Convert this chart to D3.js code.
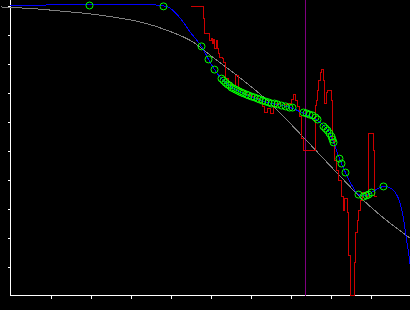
<!DOCTYPE html>
<html>
<head>
<meta charset="utf-8">
<script src="https://cdn.jsdelivr.net/npm/d3@7"></script>
<style>
  body { margin: 0; background: #000; }
  svg { display: block; background: #000; }
  line, path { shape-rendering: crispEdges; }
</style>
</head>
<body>
<svg id="chart"></svg>
<script>
// Axis tick values (no labels drawn on the reference)
var xTicks = [1, 2, 3, 4, 5, 6, 7, 8, 9, 10];
var yTicks = [1, 2, 3, 4, 5, 6, 7, 8, 9, 10];

// Reference marker (vertical line)
var markerX = 7.375;

// Smooth gray trend curve
var trendX = [-0.25, 0.575, 1.325, 2.0, 2.575, 3.25, 3.925, 4.575, 5.0, 5.5, 6.425, 7.375, 8.25, 8.825, 9.375, 10.0];
var trendY = [9.95, 9.89, 9.80, 9.71, 9.60, 9.43, 9.14, 8.73, 8.28, 7.76, 6.72, 5.38, 4.10, 3.28, 2.62, 1.97];

// Blue fitted curve
var fitX = [0, 3.825, 4.0, 4.25, 4.5, 4.775, 4.95, 5.1, 5.275, 5.575, 5.925, 6.425, 7.0, 7.325, 7.675, 7.925, 8.075, 8.225, 8.375, 8.55, 8.7, 8.9, 9.1, 9.325, 9.55, 9.7, 9.8, 9.875, 9.95, 10.0];
var fitY = [9.99, 9.99, 9.90, 9.55, 9.07, 8.59, 8.14, 7.79, 7.48, 7.14, 6.90, 6.66, 6.48, 6.28, 6.03, 5.72, 5.28, 4.72, 4.24, 3.76, 3.48, 3.45, 3.62, 3.76, 3.66, 3.34, 2.83, 2.17, 1.48, 0.97];

// Red raw step series
var rawX = [4.5, 4.825, 4.85, 4.975, 5.025, 5.05, 5.075, 5.1, 5.15, 5.175, 5.2, 5.225, 5.3, 5.325, 5.375, 5.45, 5.525, 5.625, 5.7, 5.775, 5.875, 6.0, 6.1, 6.2, 6.3, 6.35, 6.425, 6.5, 6.575, 6.65, 6.75, 6.85, 6.95, 7.025, 7.075, 7.125, 7.175, 7.225, 7.275, 7.325, 7.625, 7.65, 7.675, 7.7, 7.75, 7.775, 7.825, 7.85, 7.9, 7.925, 8.025, 8.05, 8.1, 8.15, 8.2, 8.275, 8.325, 8.35, 8.425, 8.45, 8.5, 8.6, 8.625, 8.675, 8.7, 8.75, 8.8, 8.9, 8.95, 9.075, 9.1, 9.15];
var rawY = [9.98, 9.55, 9.03, 8.79, 8.86, 8.69, 8.83, 8.52, 8.79, 8.52, 8.34, 8.21, 8.17, 8.03, 7.48, 7.34, 7.24, 7.59, 7.14, 7.07, 6.93, 6.86, 6.79, 6.72, 6.52, 6.31, 6.45, 6.28, 6.52, 6.62, 6.55, 6.59, 6.62, 6.76, 6.93, 6.72, 6.52, 6.17, 5.41, 5.0, 6.55, 6.72, 7.07, 7.41, 7.69, 7.79, 7.41, 6.62, 7.0, 7.07, 6.72, 5.34, 4.66, 4.31, 3.97, 3.41, 2.93, 3.34, 2.86, 1.38, 0.0, 1.14, 2.17, 2.59, 2.93, 3.28, 3.55, 3.41, 5.59, 5.0, 3.41, 3.41];

// Green sample points
var sampleX = [1.975, 3.825, 4.775, 4.95, 5.1, 5.275, 5.325, 5.375, 5.425, 5.475, 5.525, 5.575, 5.625, 5.675, 5.725, 5.775, 5.825, 5.9, 5.95, 6.025, 6.1, 6.175, 6.225, 6.3, 6.375, 6.45, 6.525, 6.6, 6.675, 6.775, 6.875, 6.975, 7.05, 7.325, 7.4, 7.475, 7.55, 7.625, 7.675, 7.825, 7.875, 7.925, 7.975, 8.025, 8.05, 8.075, 8.225, 8.275, 8.375, 8.7, 8.825, 8.9, 8.95, 9.025, 9.325];
var sampleY = [10.0, 9.97, 8.59, 8.14, 7.79, 7.48, 7.41, 7.34, 7.28, 7.24, 7.17, 7.14, 7.10, 7.07, 7.03, 7.00, 6.97, 6.93, 6.90, 6.86, 6.83, 6.79, 6.76, 6.72, 6.69, 6.66, 6.62, 6.62, 6.59, 6.55, 6.52, 6.48, 6.48, 6.31, 6.28, 6.24, 6.21, 6.14, 6.07, 5.83, 5.76, 5.69, 5.59, 5.48, 5.38, 5.28, 4.72, 4.55, 4.24, 3.48, 3.41, 3.45, 3.48, 3.55, 3.76];

var width = 410;
var height = 310;

var svg = d3.select("#chart")
            .attr("width", width)
            .attr("height", height);

var xScale = d3.scaleLinear()
               .domain([0, 10])
               .range([10.5, 410.5]);

var yScale = d3.scaleLinear()
               .domain([0, 10])
               .range([295.5, 5.5]);

function zip(xs, ys) {
    return xs.map(function(x, i) {return {x: x, y: ys[i]};});
}

// Axes (ticks only, domain lines drawn to the frame edges)
var xAxis = svg.append("g")
               .attr("transform", "translate(0," + yScale(0) + ")")
               .call(d3.axisBottom(xScale).tickValues(xTicks).tickSize(3).tickSizeOuter(0).tickFormat(""));

var yAxis = svg.append("g")
               .attr("transform", "translate(" + xScale(0) + ",0)")
               .call(d3.axisLeft(yScale).tickValues(yTicks).tickSize(3).tickSizeOuter(0).tickFormat(""));

xAxis.select(".domain").remove();
yAxis.select(".domain").remove();
svg.selectAll(".tick line")
   .attr("stroke", "#fff")
   .attr("stroke-width", 1);

svg.append("line")
   .attr("x1", xScale(0)).attr("x2", xScale(0))
   .attr("y1", 0).attr("y2", yScale(0))
   .attr("stroke", "#fff")
   .attr("stroke-width", 1);

svg.append("line")
   .attr("x1", xScale(0)).attr("x2", width)
   .attr("y1", yScale(0)).attr("y2", yScale(0))
   .attr("stroke", "#fff")
   .attr("stroke-width", 1);

// Vertical marker
svg.append("line")
   .attr("x1", xScale(markerX)).attr("x2", xScale(markerX))
   .attr("y1", 0).attr("y2", yScale(0))
   .attr("stroke", "#800080")
   .attr("stroke-width", 1);

// Gray trend
svg.append("path")
   .datum(zip(trendX, trendY))
   .attr("fill", "none")
   .attr("stroke", "#808080")
   .attr("stroke-width", 1)
   .attr("d", d3.line()
                .curve(d3.curveMonotoneX)
                .x(function(d) {return xScale(d.x);})
                .y(function(d) {return yScale(d.y);}));

// Red step series
svg.append("path")
   .datum(zip(rawX, rawY))
   .attr("fill", "none")
   .attr("stroke", "#cc0000")
   .attr("stroke-width", 1)
   .attr("d", d3.line()
                .curve(d3.curveStepAfter)
                .x(function(d) {return xScale(d.x);})
                .y(function(d) {return yScale(d.y);}));

// Blue fit
svg.append("path")
   .datum(zip(fitX, fitY))
   .attr("fill", "none")
   .attr("stroke", "#0000ff")
   .attr("stroke-width", 1)
   .attr("d", d3.line()
                .curve(d3.curveCatmullRom)
                .x(function(d) {return xScale(d.x);})
                .y(function(d) {return yScale(d.y);}));

// Green samples
svg.selectAll(".sample")
   .data(zip(sampleX, sampleY))
   .enter()
   .append("circle")
   .classed("sample", true)
   .attr("cx", function(d) {return xScale(d.x);})
   .attr("cy", function(d) {return yScale(d.y);})
   .attr("r", 3.5)
   .attr("fill", "none")
   .attr("stroke", "#00ff00")
   .attr("stroke-width", 1);
</script>
</body>
</html>
